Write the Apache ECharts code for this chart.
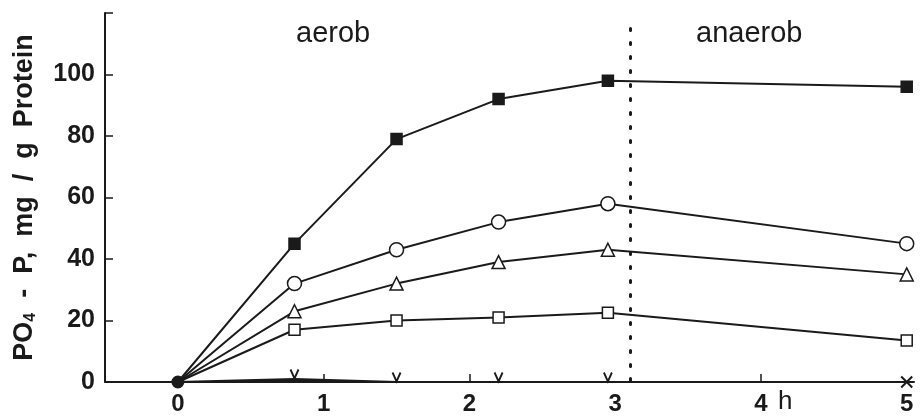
<!DOCTYPE html>
<html>
<head>
<meta charset="utf-8">
<script src="https://cdn.jsdelivr.net/npm/echarts@6/dist/echarts.min.js"></script>
<style>
  html, body { margin: 0; padding: 0; background: #fff; }
  #main { width: 920px; height: 417px; }
</style>
</head>
<body>
<div id="main"></div>
<script>
// 数据 (Stunden / mg PO4-P pro g Protein)
var times = [0, 0.8, 1.5, 2.2, 2.95, 5];
var filledSquare = [0, 45, 79, 92, 98, 96];
var openCircle = [0, 32, 43, 52, 58, 45];
var openTriangle = [0, 23, 32, 39, 43, 35];
var openSquare = [0, 17, 20, 21, 22.5, 13.5];
var crossMark = [0, 1, 0, 0, 0, 0];
var xLabels = [0, 1, 2, 3, 4, 5];
var phaseSplit = 3.1;

var ink = '#1a1a1a';
var chart = echarts.init(document.getElementById('main'));

function pairs(vals) {
    return vals.map(function (v, i) { return [times[i], v]; });
}

function lineSeries(name, vals, symbol, size, fill) {
    var data = pairs(vals).map(function (p, i) {
        return i === 0 ? { value: p, symbol: 'none' } : p;
    });
    return {
        name: name,
        type: 'line',
        data: data,
        symbol: symbol,
        symbolSize: size,
        showAllSymbol: true,
        lineStyle: { color: ink, width: 2 },
        itemStyle: { color: fill, borderColor: ink, borderWidth: 1.5 },
        z: 3
    };
}

var crossData = pairs(crossMark).map(function (p, i) {
    if (i === 0) return { value: p, symbol: 'circle', symbolSize: 11, symbolOffset: [0, 0], itemStyle: { color: ink } };
    if (i === times.length - 1) return { value: p, symbol: 'path://M0,0L10,10M10,0L0,10', symbolSize: 11, symbolOffset: [0, 0] };
    return p;
});

var option = {
    backgroundColor: '#fff',
    animation: false,
    grid: { left: 105, right: 6, top: 13, bottom: 35 },
    xAxis: {
        type: 'value',
        min: -0.5,
        max: 5.05,
        axisLine: { onZero: false, lineStyle: { color: ink, width: 2 } },
        axisTick: { inside: true, length: 8, customValues: [1, 2, 4], lineStyle: { color: ink, width: 1.5 } },
        axisLabel: {
            customValues: xLabels,
            color: ink, fontFamily: 'Liberation Sans', fontWeight: 'bold', fontSize: 24, margin: 10
        },
        splitLine: { show: false }
    },
    yAxis: {
        type: 'value',
        min: 0,
        max: 120,
        interval: 20,
        name: 'PO{sub|4}  -  P,  mg  /  g  Protein',
        nameLocation: 'middle',
        nameRotate: 90,
        nameGap: 66,
        nameTextStyle: {
            color: ink, fontFamily: 'Liberation Sans', fontWeight: 'bold', fontSize: 27,
            rich: { sub: { fontSize: 16, fontWeight: 'bold', fontFamily: 'Liberation Sans', color: ink, padding: [12, 0, 0, 0] } }
        },
        axisLine: { show: true, onZero: false, lineStyle: { color: ink, width: 2 } },
        axisTick: { show: true, inside: true, length: 8, lineStyle: { color: ink, width: 1.5 } },
        axisLabel: {
            color: ink, fontFamily: 'Liberation Sans', fontWeight: 'bold', fontSize: 25, margin: 10,
            formatter: function (v) { return v === 120 ? '' : v; }
        },
        splitLine: { show: false }
    },
    graphic: [
        { type: 'text', left: 296, top: 19, style: { text: 'aerob', font: '29px "Liberation Sans"', fill: ink } },
        { type: 'text', left: 696, top: 19, style: { text: 'anaerob', font: '29px "Liberation Sans"', fill: ink } },
        { type: 'text', left: 778, top: 389, style: { text: 'h', font: '26px "Liberation Sans"', fill: ink } }
    ],
    series: [
        lineSeries('geschlossenes Quadrat', filledSquare, 'rect', 11, ink),
        lineSeries('Kreis', openCircle, 'circle', 14, '#fff'),
        lineSeries('Dreieck', openTriangle, 'triangle', 13, '#fff'),
        lineSeries('offenes Quadrat', openSquare, 'rect', 11, '#fff'),
        {
            name: 'Kreuz',
            type: 'line',
            data: crossData,
            symbol: 'path://M0,0L5,9L10,0',
            symbolSize: [8, 9],
            symbolOffset: [0, -5],
            showAllSymbol: true,
            lineStyle: { color: ink, width: 2 },
            areaStyle: { color: ink, opacity: 1 },
            itemStyle: { color: 'none', borderColor: ink, borderWidth: 2 },
            z: 4,
            markLine: {
                silent: true,
                symbol: 'none',
                label: { show: false },
                lineStyle: { color: ink, width: 3, type: [2, 12], cap: 'round' },
                data: [[{ coord: [phaseSplit, 115] }, { coord: [phaseSplit, 0] }]]
            }
        }
    ]
};

chart.setOption(option);
window.addEventListener('resize', chart.resize);
</script>
</body>
</html>
